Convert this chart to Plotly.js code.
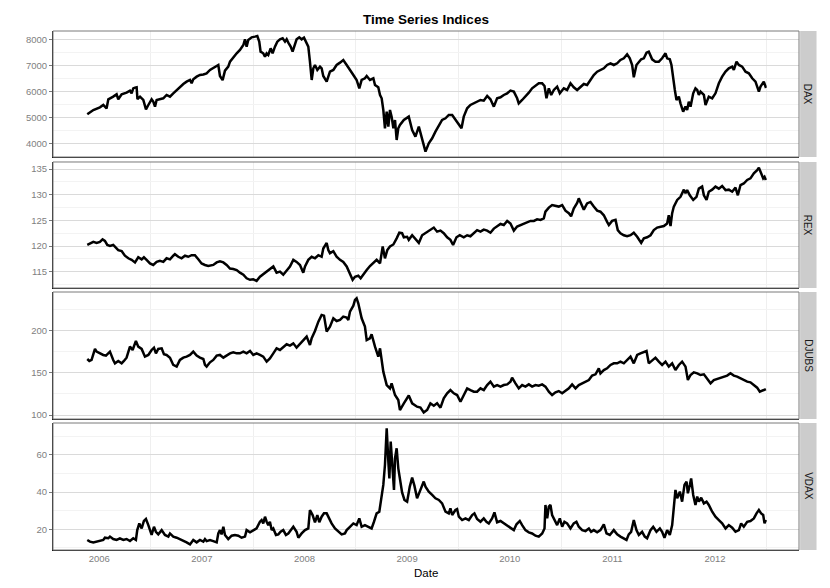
<!DOCTYPE html>
<html><head><meta charset="utf-8">
<script src="https://cdn.plot.ly/plotly-3.0.1.min.js"></script>
<style>html,body{margin:0;padding:0;background:#fff}#chart{width:830px;height:588px}</style>
</head><body><div id="chart"></div>
<script>
const chartTitle = "Time Series Indices";
const xTitle = "Date";
const panelNames = ["DAX", "REX", "DJUBS", "VDAX"];
const yearTicks = [2006, 2007, 2008, 2009, 2010, 2011, 2012];
const yearTickLabels = ["2006", "2007", "2008", "2009", "2010", "2011", "2012"];
const midYears = [2005.5, 2006.5, 2007.5, 2008.5, 2009.5, 2010.5, 2011.5, 2012.5];

const daxYears = [2005.883,2005.942,2006.006,2006.039,2006.071,2006.088,2006.136,2006.169,2006.185,2006.218,2006.266,2006.299,2006.315,2006.331,2006.348,2006.364,2006.372,2006.397,2006.429,2006.455,2006.478,2006.510,2006.526,2006.543,2006.559,2006.591,2006.624,2006.656,2006.689,2006.721,2006.754,2006.786,2006.819,2006.851,2006.884,2006.900,2006.916,2006.949,2006.981,2007.014,2007.046,2007.079,2007.111,2007.144,2007.160,2007.176,2007.202,2007.225,2007.257,2007.274,2007.306,2007.339,2007.371,2007.404,2007.420,2007.436,2007.452,2007.485,2007.517,2007.540,2007.559,2007.572,2007.598,2007.615,2007.631,2007.647,2007.670,2007.689,2007.712,2007.735,2007.761,2007.787,2007.810,2007.826,2007.842,2007.865,2007.884,2007.907,2007.923,2007.949,2007.972,2007.995,2008.014,2008.037,2008.053,2008.070,2008.086,2008.102,2008.125,2008.151,2008.167,2008.183,2008.216,2008.248,2008.281,2008.313,2008.346,2008.378,2008.411,2008.443,2008.476,2008.508,2008.534,2008.557,2008.589,2008.606,2008.638,2008.671,2008.687,2008.719,2008.736,2008.752,2008.768,2008.784,2008.801,2008.817,2008.833,2008.849,2008.866,2008.882,2008.898,2008.914,2008.930,2008.968,2009.016,2009.049,2009.081,2009.114,2009.146,2009.179,2009.211,2009.244,2009.276,2009.309,2009.341,2009.374,2009.406,2009.439,2009.471,2009.504,2009.530,2009.552,2009.585,2009.617,2009.650,2009.682,2009.715,2009.747,2009.780,2009.812,2009.845,2009.877,2009.910,2009.942,2009.975,2010.007,2010.040,2010.072,2010.088,2010.121,2010.153,2010.186,2010.218,2010.251,2010.283,2010.316,2010.339,2010.358,2010.381,2010.404,2010.430,2010.462,2010.488,2010.527,2010.559,2010.592,2010.624,2010.657,2010.689,2010.722,2010.754,2010.787,2010.819,2010.852,2010.884,2010.917,2010.949,2010.982,2011.014,2011.047,2011.079,2011.112,2011.144,2011.170,2011.193,2011.209,2011.235,2011.258,2011.281,2011.307,2011.333,2011.355,2011.388,2011.420,2011.453,2011.485,2011.518,2011.534,2011.560,2011.576,2011.593,2011.609,2011.625,2011.648,2011.664,2011.690,2011.713,2011.729,2011.745,2011.762,2011.788,2011.810,2011.827,2011.843,2011.859,2011.875,2011.892,2011.908,2011.940,2011.973,2012.005,2012.038,2012.070,2012.103,2012.135,2012.168,2012.184,2012.210,2012.233,2012.265,2012.298,2012.330,2012.363,2012.395,2012.428,2012.444,2012.476,2012.493,2012.502];
const daxValues = [5115,5282,5385,5474,5340,5692,5795,5885,5692,5885,5949,6026,5923,6115,6141,6154,5700,5795,5667,5308,5474,5692,5603,5410,5667,5692,5731,5859,5795,5923,6051,6180,6282,6372,6436,6308,6462,6564,6628,6650,6692,6821,6885,6974,7013,6590,6430,6795,6949,7141,7308,7462,7590,7782,8000,7718,7974,8077,8103,8128,7910,7526,7462,7333,7462,7397,7654,7462,7718,7910,8000,8038,7910,8000,7872,7718,7526,7782,8000,8077,8000,8064,7910,7718,7141,6436,6885,7013,6821,6949,6885,6590,6372,6756,6821,7013,7103,7205,7013,6846,6628,6436,6115,6436,6500,6590,6436,6500,6244,6154,5859,5731,5282,4577,5218,4641,5282,5026,4577,4897,4128,4577,4705,4897,5026,4513,4256,4641,4128,3679,4000,4192,4449,4705,4897,4962,5090,5090,4897,4744,4577,5026,5346,5474,5538,5603,5667,5641,5821,5692,5410,5731,5769,5859,5923,6026,5987,5731,5538,5667,5795,5949,6115,6205,6308,6308,6205,5731,6115,5859,6051,6180,5923,6115,6051,6308,6154,6051,6180,6282,6244,6436,6628,6756,6821,6885,7013,7077,7013,7077,7205,7269,7423,7269,7013,6538,7013,7141,7231,7269,7487,7526,7231,7141,7141,7269,7462,7269,7231,7013,6436,6051,5667,5795,5538,5218,5410,5282,5603,5410,5923,6115,6051,5859,5987,5923,5859,5474,5795,5731,5923,6308,6564,6756,6885,6949,6821,7141,7013,6949,6756,6692,6500,6372,5987,6180,6372,6180,6200];

const rexYears = [2005.883,2005.909,2005.942,2005.974,2006.006,2006.032,2006.055,2006.078,2006.104,2006.136,2006.162,2006.185,2006.218,2006.250,2006.283,2006.315,2006.348,2006.380,2006.413,2006.435,2006.461,2006.494,2006.526,2006.559,2006.591,2006.624,2006.656,2006.689,2006.721,2006.737,2006.770,2006.802,2006.835,2006.867,2006.900,2006.932,2006.965,2006.997,2007.030,2007.062,2007.111,2007.144,2007.176,2007.209,2007.241,2007.274,2007.306,2007.339,2007.371,2007.404,2007.436,2007.469,2007.501,2007.533,2007.566,2007.598,2007.631,2007.663,2007.696,2007.728,2007.761,2007.793,2007.826,2007.858,2007.891,2007.923,2007.956,2007.988,2008.005,2008.037,2008.070,2008.102,2008.135,2008.167,2008.183,2008.216,2008.232,2008.248,2008.281,2008.313,2008.346,2008.378,2008.411,2008.443,2008.469,2008.492,2008.524,2008.547,2008.573,2008.606,2008.638,2008.671,2008.703,2008.736,2008.762,2008.784,2008.807,2008.833,2008.866,2008.898,2008.924,2008.951,2008.968,2009.000,2009.016,2009.049,2009.081,2009.114,2009.146,2009.195,2009.227,2009.260,2009.292,2009.325,2009.357,2009.390,2009.422,2009.448,2009.481,2009.513,2009.552,2009.585,2009.617,2009.650,2009.682,2009.715,2009.747,2009.780,2009.812,2009.845,2009.877,2009.910,2009.942,2009.975,2010.007,2010.040,2010.072,2010.105,2010.137,2010.170,2010.202,2010.235,2010.267,2010.300,2010.332,2010.348,2010.381,2010.413,2010.446,2010.478,2010.511,2010.543,2010.576,2010.598,2010.624,2010.657,2010.673,2010.706,2010.722,2010.754,2010.787,2010.819,2010.852,2010.884,2010.917,2010.949,2010.966,2010.998,2011.031,2011.053,2011.079,2011.112,2011.144,2011.177,2011.209,2011.242,2011.281,2011.307,2011.339,2011.372,2011.404,2011.437,2011.469,2011.502,2011.534,2011.550,2011.567,2011.583,2011.599,2011.632,2011.664,2011.697,2011.713,2011.729,2011.755,2011.788,2011.820,2011.843,2011.875,2011.892,2011.918,2011.940,2011.973,2012.005,2012.038,2012.070,2012.103,2012.135,2012.168,2012.200,2012.223,2012.249,2012.281,2012.314,2012.346,2012.379,2012.411,2012.428,2012.450,2012.470,2012.483,2012.496];
const rexValues = [120.2,120.5,120.8,120.6,120.8,121.3,121.0,120.2,120.0,120.2,119.7,119.2,119.0,118.1,117.6,117.3,116.8,117.8,117.4,117.8,117.3,116.6,116.3,116.9,117.1,116.9,117.6,117.4,118.1,118.4,117.9,117.6,118.1,117.9,118.2,118.2,117.4,116.6,116.3,116.1,116.3,116.8,117.0,116.8,116.3,115.6,115.5,115.3,114.8,114.4,113.7,113.4,113.5,113.2,114.0,114.5,115.0,115.5,116.0,114.8,115.0,114.4,115.3,116.0,117.3,116.9,116.3,114.8,116.0,117.3,117.9,117.6,118.2,117.9,119.5,120.6,119.2,118.6,119.0,117.9,117.3,116.9,116.0,114.5,113.4,114.0,114.2,113.7,114.5,115.3,116.1,116.8,117.3,116.6,119.9,117.6,119.2,119.9,120.3,121.5,122.6,122.5,121.7,121.8,121.2,122.1,121.3,120.6,122.1,122.8,123.1,123.6,122.8,123.0,122.5,121.7,121.2,120.2,121.7,122.1,121.7,122.1,121.9,122.5,123.1,122.8,123.2,123.0,122.6,123.4,123.9,124.3,124.1,124.9,124.4,123.0,123.8,124.1,124.4,124.7,124.9,124.9,125.2,125.1,125.4,126.7,127.5,128.0,127.8,127.7,128.0,126.9,126.4,125.8,127.3,128.4,129.3,128.0,127.1,128.3,128.6,127.7,126.9,126.7,126.0,124.7,124.1,124.9,125.1,123.1,122.5,122.1,121.9,122.1,122.6,121.8,120.6,121.5,121.7,122.1,123.1,123.6,123.8,123.9,124.4,126.0,123.9,126.4,127.7,129.0,129.6,131.0,130.3,130.9,129.9,129.0,129.6,131.2,131.6,129.9,129.0,130.6,131.0,131.6,131.2,131.7,130.9,131.0,130.6,131.4,129.9,131.9,132.2,132.9,133.2,134.2,134.8,135.3,134.2,133.2,133.5,132.9];

const djubsYears = [2005.883,2005.903,2005.925,2005.942,2005.958,2005.974,2006.006,2006.039,2006.065,2006.088,2006.104,2006.136,2006.153,2006.185,2006.218,2006.240,2006.266,2006.299,2006.325,2006.348,2006.357,2006.380,2006.413,2006.445,2006.478,2006.510,2006.533,2006.552,2006.575,2006.608,2006.630,2006.656,2006.689,2006.721,2006.754,2006.786,2006.819,2006.851,2006.884,2006.916,2006.949,2006.981,2007.014,2007.030,2007.046,2007.079,2007.111,2007.144,2007.176,2007.209,2007.241,2007.274,2007.306,2007.339,2007.371,2007.404,2007.436,2007.469,2007.501,2007.533,2007.566,2007.598,2007.631,2007.663,2007.696,2007.728,2007.761,2007.793,2007.826,2007.858,2007.891,2007.923,2007.956,2007.988,2008.021,2008.053,2008.070,2008.102,2008.135,2008.167,2008.190,2008.216,2008.248,2008.281,2008.313,2008.346,2008.378,2008.411,2008.427,2008.443,2008.476,2008.492,2008.508,2008.524,2008.557,2008.589,2008.606,2008.638,2008.654,2008.687,2008.719,2008.736,2008.768,2008.801,2008.833,2008.849,2008.882,2008.914,2008.930,2008.968,2009.016,2009.049,2009.065,2009.097,2009.130,2009.162,2009.195,2009.227,2009.260,2009.292,2009.325,2009.357,2009.390,2009.422,2009.455,2009.487,2009.520,2009.552,2009.585,2009.617,2009.650,2009.682,2009.715,2009.747,2009.780,2009.812,2009.845,2009.877,2009.910,2009.942,2009.975,2010.007,2010.023,2010.056,2010.088,2010.121,2010.153,2010.186,2010.218,2010.251,2010.283,2010.316,2010.348,2010.381,2010.413,2010.446,2010.478,2010.511,2010.543,2010.576,2010.608,2010.641,2010.673,2010.706,2010.738,2010.771,2010.803,2010.836,2010.868,2010.884,2010.917,2010.949,2010.982,2011.014,2011.047,2011.079,2011.112,2011.144,2011.177,2011.209,2011.242,2011.274,2011.307,2011.333,2011.355,2011.388,2011.420,2011.453,2011.485,2011.518,2011.550,2011.583,2011.615,2011.648,2011.680,2011.713,2011.736,2011.762,2011.794,2011.827,2011.859,2011.892,2011.924,2011.957,2011.989,2012.021,2012.054,2012.086,2012.119,2012.151,2012.184,2012.216,2012.249,2012.281,2012.314,2012.346,2012.379,2012.411,2012.437,2012.460,2012.476,2012.496];
const djubsValues = [166.1,163.8,165.0,172.8,178.0,174.8,172.8,170.9,170.1,172.8,174.8,165.0,161.0,163.8,161.0,163.8,167.7,180.7,176.8,184.6,187.4,180.7,178.0,168.9,170.9,176.8,179.5,172.8,178.0,178.7,171.7,170.9,167.7,159.1,157.1,165.0,167.7,168.9,170.9,174.8,170.1,167.7,166.1,159.1,157.1,162.2,165.0,170.1,170.9,167.7,170.1,172.8,174.0,172.8,172.8,174.8,172.8,175.6,170.9,172.8,170.9,168.9,163.0,166.9,172.8,178.7,176.8,180.7,183.5,181.9,184.6,179.5,183.5,188.6,192.5,182.7,190.6,199.2,210.2,218.1,217.3,198.4,204.3,214.2,211.0,212.2,216.1,215.0,212.2,222.0,229.1,235.8,237.8,231.9,214.2,204.3,188.6,190.6,195.3,180.7,168.9,178.7,151.2,135.4,131.5,137.4,123.6,117.7,105.9,113.8,123.0,113.8,112.6,109.8,108.7,103.1,105.9,113.8,111.0,113.8,108.7,119.7,125.6,129.5,125.6,123.6,115.7,123.6,131.5,129.5,127.6,127.6,131.5,129.5,135.4,139.4,133.5,135.4,133.5,135.4,136.2,139.4,144.1,137.4,131.5,135.4,133.5,136.2,133.5,135.4,134.6,136.2,133.5,127.6,123.6,126.8,128.3,125.6,128.3,131.5,136.2,131.5,135.4,137.4,140.2,141.3,146.5,148.0,155.1,149.2,153.1,155.1,159.1,161.0,161.0,163.0,161.0,165.0,168.9,161.0,170.9,172.8,174.8,175.6,161.0,165.0,167.7,163.0,159.1,163.0,157.1,161.0,153.1,159.1,163.0,157.1,141.3,147.2,150.4,149.2,147.2,148.0,143.3,137.4,141.3,142.5,144.1,145.3,146.5,149.2,146.5,145.3,143.3,141.3,139.4,138.6,135.4,132.3,127.6,128.3,129.5,130.7];

const vdaxYears = [2005.883,2005.909,2005.942,2005.974,2006.006,2006.039,2006.055,2006.088,2006.104,2006.136,2006.169,2006.201,2006.234,2006.266,2006.299,2006.331,2006.357,2006.370,2006.390,2006.413,2006.435,2006.455,2006.478,2006.510,2006.533,2006.552,2006.575,2006.608,2006.640,2006.673,2006.689,2006.721,2006.754,2006.786,2006.819,2006.851,2006.884,2006.916,2006.949,2006.981,2007.014,2007.030,2007.046,2007.079,2007.111,2007.144,2007.160,2007.176,2007.192,2007.209,2007.225,2007.257,2007.290,2007.322,2007.355,2007.387,2007.420,2007.436,2007.469,2007.501,2007.533,2007.566,2007.582,2007.598,2007.615,2007.631,2007.647,2007.663,2007.680,2007.696,2007.722,2007.745,2007.767,2007.793,2007.819,2007.842,2007.865,2007.891,2007.923,2007.940,2007.972,2008.005,2008.037,2008.053,2008.079,2008.102,2008.125,2008.144,2008.167,2008.190,2008.216,2008.242,2008.264,2008.297,2008.329,2008.362,2008.394,2008.411,2008.443,2008.476,2008.508,2008.534,2008.557,2008.589,2008.622,2008.654,2008.677,2008.703,2008.729,2008.752,2008.768,2008.784,2008.801,2008.817,2008.827,2008.840,2008.859,2008.872,2008.882,2008.898,2008.914,2008.930,2008.951,2008.974,2009.000,2009.026,2009.049,2009.071,2009.097,2009.123,2009.146,2009.162,2009.179,2009.211,2009.244,2009.276,2009.309,2009.341,2009.374,2009.406,2009.422,2009.439,2009.471,2009.487,2009.504,2009.536,2009.569,2009.601,2009.634,2009.656,2009.682,2009.715,2009.747,2009.773,2009.796,2009.828,2009.851,2009.877,2009.910,2009.942,2009.975,2010.007,2010.040,2010.066,2010.098,2010.121,2010.153,2010.186,2010.218,2010.251,2010.283,2010.316,2010.339,2010.348,2010.365,2010.381,2010.397,2010.413,2010.436,2010.462,2010.488,2010.511,2010.533,2010.559,2010.592,2010.624,2010.650,2010.673,2010.706,2010.738,2010.771,2010.793,2010.819,2010.852,2010.884,2010.917,2010.943,2010.975,2011.014,2011.047,2011.079,2011.112,2011.138,2011.160,2011.183,2011.209,2011.235,2011.258,2011.290,2011.316,2011.339,2011.372,2011.398,2011.430,2011.463,2011.485,2011.508,2011.534,2011.560,2011.583,2011.599,2011.615,2011.632,2011.658,2011.680,2011.703,2011.723,2011.736,2011.755,2011.768,2011.788,2011.810,2011.827,2011.843,2011.866,2011.892,2011.918,2011.940,2011.973,2012.005,2012.038,2012.070,2012.103,2012.135,2012.168,2012.200,2012.233,2012.255,2012.281,2012.314,2012.346,2012.379,2012.405,2012.428,2012.450,2012.470,2012.483,2012.496];
const vdaxValues = [14.3,13.4,13.0,13.4,13.7,14.3,15.5,15.2,16.1,14.8,14.3,15.2,14.3,14.8,13.7,15.2,14.3,19.6,23.2,20.5,24.5,25.6,22.3,17.0,21.4,18.7,17.3,19.6,17.0,16.1,17.8,16.1,15.5,14.8,13.7,13.0,11.9,14.3,13.0,14.3,13.4,14.8,13.7,14.3,13.7,13.0,17.8,19.6,17.3,21.4,17.0,14.8,16.6,17.0,16.6,15.5,16.1,19.6,18.4,19.6,20.5,24.1,25.0,23.2,26.8,24.1,22.3,24.1,19.6,20.5,17.0,17.3,18.7,19.6,17.0,17.8,19.6,21.4,18.7,15.5,17.8,19.6,20.5,30.4,27.7,23.8,27.7,23.8,26.8,28.6,28.6,25.6,23.2,20.5,18.7,17.3,17.8,19.6,21.4,23.2,22.3,25.9,21.4,22.3,21.4,20.5,24.1,28.6,29.5,36.7,43.9,54.6,74.3,56.4,47.4,67.2,49.2,41.2,58.2,63.6,52.8,47.4,39.9,35.8,34.9,43.0,47.8,43.5,36.7,40.3,43.9,45.7,43.0,40.3,38.5,36.7,35.8,34.0,29.5,28.6,31.3,27.7,30.4,30.9,26.8,25.0,25.9,25.0,27.7,28.6,25.6,24.1,25.9,24.1,23.2,25.9,29.1,23.8,24.5,23.2,22.3,20.9,19.6,22.7,24.5,22.3,19.6,18.4,17.8,16.6,16.1,17.8,20.5,33.1,25.9,32.2,33.1,27.7,25.0,22.3,25.9,21.4,24.1,23.2,20.5,23.2,24.1,21.4,19.6,19.1,20.5,18.7,19.6,18.4,19.6,22.7,17.8,17.0,19.6,17.3,16.1,15.2,14.3,17.3,18.7,25.0,19.6,17.0,18.7,16.1,15.2,19.6,21.4,18.7,20.5,18.7,15.5,19.6,17.0,22.3,33.1,41.2,36.7,40.3,34.9,43.9,45.7,39.4,43.9,47.4,38.5,33.1,37.6,34.9,37.0,34.0,34.9,33.1,29.5,26.8,25.0,23.2,20.5,22.3,20.9,18.7,19.6,23.2,21.4,24.1,24.5,25.9,28.6,30.4,28.6,27.7,23.2,25.0];

const seriesYears = [daxYears, rexYears, djubsYears, vdaxYears];
const seriesValues = [daxValues, rexValues, djubsValues, vdaxValues];

// layout settings
const FONT = "Liberation Sans, Arial, Helvetica, sans-serif";
const domains = [[0.7572, 1.0], [0.5048, 0.7476], [0.2524, 0.4971], [0.0, 0.2447]];
const yRanges = [[3473, 8320], [111.8, 136.4], [95.3, 245.2], [8.9, 77.2]];
const yDticks = [1000, 5, 50, 20];
const xRange = [2005.549, 2012.819];

const traces = [];
const layout = {
  width: 830, height: 588, autosize: false,
  margin: {l: 53, r: 31, t: 31, b: 38, pad: 0},
  paper_bgcolor: "#ffffff", plot_bgcolor: "#ffffff",
  showlegend: false,
  font: {family: FONT, size: 10, color: "#000"},
  title: {text: "<b>" + chartTitle + "</b>", x: 0.5, xref: "paper", xanchor: "center",
          y: 1 - 19 / 588, yref: "container", yanchor: "middle",
          font: {family: FONT, size: 13.5, color: "#000"}},
  shapes: [], annotations: []
};

for (let i = 0; i < 4; i++) {
  const xs = i === 0 ? "" : String(i + 1);
  traces.push({
    x: seriesYears[i], y: seriesValues[i],
    xaxis: "x" + xs, yaxis: "y" + xs,
    type: "scatter", mode: "lines",
    line: {color: "#000000", width: 2.5},
    hoverinfo: "skip"
  });
  // panel border (grey, like ggplot's theme_bw)
  layout.shapes.push({type: "rect", xref: "paper", yref: "paper", x0: 0, x1: 1,
    y0: domains[i][0], y1: domains[i][1], line: {color: "#7a7a7a", width: 1}, layer: "above"});
  layout["xaxis" + xs] = {
    domain: [0, 1], anchor: "y" + xs, range: xRange,
    tickmode: "array", tickvals: yearTicks, ticktext: yearTickLabels,
    showticklabels: i === 3, ticks: "",
    tickfont: {family: FONT, size: 9.5, color: "#808080"},
    showgrid: false, zeroline: false,
    showline: true, linecolor: "#1a1a1a", linewidth: 1, layer: "above traces",
    minor: {tickmode: "array", tickvals: midYears, showgrid: true, gridcolor: "#efefef", gridwidth: 1, ticks: ""},
    fixedrange: true
  };
  if (i > 0) layout["xaxis" + xs].matches = "x";
  layout["yaxis" + xs] = {
    domain: domains[i], anchor: "x" + xs, range: yRanges[i],
    tickmode: "linear", tick0: 0, dtick: yDticks[i],
    ticks: "outside", ticklen: 3, tickcolor: "#7a7a7a",
    tickfont: {family: FONT, size: 9.5, color: "#808080"},
    showgrid: true, gridcolor: "#dadada", gridwidth: 1,
    zeroline: false,
    showline: true, linecolor: "#1a1a1a", linewidth: 1, layer: "above traces",
    minor: {tick0: 0, dtick: yDticks[i] / 2, showgrid: true, gridcolor: "#f3f3f3", gridwidth: 1, ticks: ""},
    fixedrange: true
  };
  // facet strip
  layout.shapes.push({type: "rect", xref: "paper", yref: "paper", x0: 1.0015, x1: 1.0235,
    y0: domains[i][0], y1: domains[i][1], fillcolor: "#cccccc", line: {width: 0}, layer: "below"});
  layout.annotations.push({text: panelNames[i], xref: "paper", yref: "paper",
    x: 1.0125, y: (domains[i][0] + domains[i][1]) / 2, xanchor: "center", yanchor: "middle",
    textangle: 90, showarrow: false, font: {family: FONT, size: 10, color: "#1a1a1a"}});
}
layout.annotations.push({text: xTitle, xref: "paper", yref: "paper", x: 0.5, y: -(573 - 550) / 519,
  xanchor: "center", yanchor: "middle", showarrow: false, font: {family: FONT, size: 11.5, color: "#000"}});

Plotly.newPlot("chart", traces, layout, {displayModeBar: false, staticPlot: true});
</script>
</body></html>
